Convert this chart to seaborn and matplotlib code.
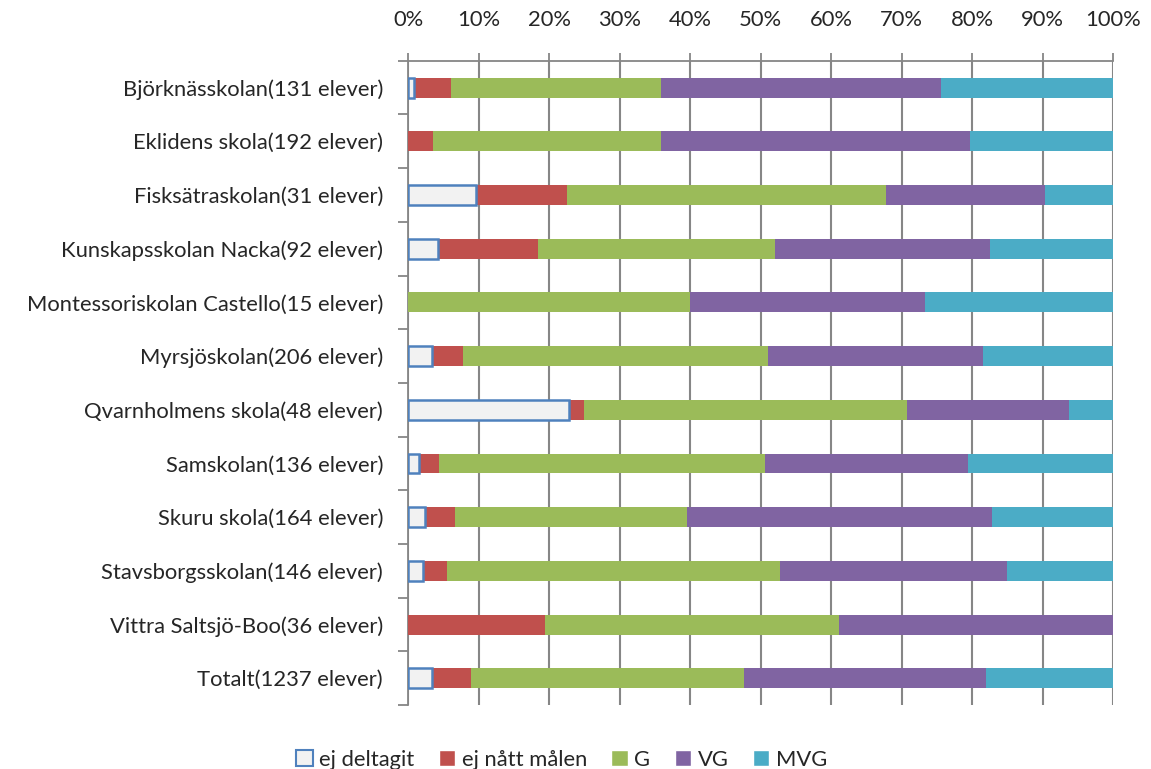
import numpy as np
import pandas as pd
import matplotlib
matplotlib.use("Agg")
import matplotlib.pyplot as plt
import matplotlib.patches as mpatches
from matplotlib.ticker import FixedLocator, PercentFormatter
import seaborn as sns

# Share of pupils per grade category (percent)
schools = [
    "Björknässkolan(131 elever)",
    "Eklidens skola(192 elever)",
    "Fisksätraskolan(31 elever)",
    "Kunskapsskolan Nacka(92 elever)",
    "Montessoriskolan Castello(15 elever)",
    "Myrsjöskolan(206 elever)",
    "Qvarnholmens skola(48 elever)",
    "Samskolan(136 elever)",
    "Skuru skola(164 elever)",
    "Stavsborgsskolan(146 elever)",
    "Vittra Saltsjö-Boo(36 elever)",
    "Totalt(1237 elever)",
]
ej_deltagit = [0.8, 0.0, 9.7, 4.3, 0.0, 3.4, 22.9, 1.5, 2.4, 2.1, 0.0, 3.4]
ej_natt = [5.3, 3.6, 12.9, 14.1, 0.0, 4.4, 2.1, 2.9, 4.3, 3.4, 19.4, 5.6]
g = [29.8, 32.3, 45.2, 33.7, 40.0, 43.2, 45.8, 46.3, 32.9, 47.3, 41.7, 38.7]
vg = [39.7, 43.8, 22.6, 30.4, 33.3, 30.6, 22.9, 28.7, 43.3, 32.2, 38.9, 34.3]
mvg = [24.4, 20.3, 9.6, 17.5, 26.7, 18.4, 6.3, 20.6, 17.1, 15.0, 0.0, 18.0]

categories = ["ej deltagit", "ej nått målen", "G", "VG", "MVG"]
colors = ["#F2F2F2", "#C0504D", "#9BBB59", "#8064A2", "#4BACC6"]

df = pd.DataFrame({
    "skola": schools,
    "ej deltagit": ej_deltagit,
    "ej nått målen": ej_natt,
    "G": g,
    "VG": vg,
    "MVG": mvg,
})
cum = df[categories].cumsum(axis=1)
cum["skola"] = df["skola"]

sns.set_style("white")
plt.rcParams["font.family"] = ["Lato", "DejaVu Sans"]
fs = 15.8

fig = plt.figure(figsize=(11.51, 7.69), dpi=100)
ax = fig.add_axes([0.3545, 0.083, 0.6125, 0.838])

# draw stacked bars from the outermost segment inwards
for cat, col in reversed(list(zip(categories, colors))):
    n_before = len(ax.patches)
    if cat == "ej deltagit":
        sns.barplot(data=cum, x=cat, y="skola", color=col, orient="h",
                    width=0.37, edgecolor="#4F81BD", linewidth=1.8,
                    saturation=1, ax=ax, zorder=3)
        for p in ax.patches[n_before:]:
            if p.get_width() == 0:
                p.set_linewidth(0)
    else:
        sns.barplot(data=cum, x=cat, y="skola", color=col, orient="h",
                    width=0.37, linewidth=0, saturation=1, ax=ax, zorder=3)

ax.set_xlim(0, 100)
ax.set_ylim(len(schools) - 0.5, -0.5)
ax.set_xlabel("")
ax.set_ylabel("")

ax.xaxis.tick_top()
ax.xaxis.set_major_locator(FixedLocator(np.arange(0, 101, 10)))
ax.xaxis.set_major_formatter(PercentFormatter(decimals=0))
ax.tick_params(axis="x", direction="out", length=6, width=1.3,
               color="#868686", pad=16, labelsize=fs)
ax.grid(axis="x", color="#868686", linewidth=1.5, zorder=0)
ax.set_axisbelow(True)

ax.yaxis.set_minor_locator(FixedLocator(np.arange(-0.5, len(schools), 1)))
ax.tick_params(axis="y", which="major", length=0, pad=18, labelsize=fs)
ax.tick_params(axis="y", which="minor", direction="out", length=7,
               width=1.3, color="#868686", left=True)

for side in ["right", "bottom"]:
    ax.spines[side].set_visible(False)
for side in ["top", "left"]:
    ax.spines[side].set_color("#868686")
    ax.spines[side].set_linewidth(1.3)

handles = []
for cat, col in zip(categories, colors):
    if cat == "ej deltagit":
        handles.append(mpatches.Patch(facecolor=col, edgecolor="#4F81BD",
                                      linewidth=1.5, label=cat))
    else:
        handles.append(mpatches.Patch(facecolor=col, label=cat))
fig.legend(handles=handles, loc="lower center", bbox_to_anchor=(0.488, -0.027),
           ncol=5, frameon=False, handlelength=0.75, handleheight=0.75,
           handletextpad=0.3, columnspacing=1.1, fontsize=fs)

fig.savefig("out.png", dpi=100)
